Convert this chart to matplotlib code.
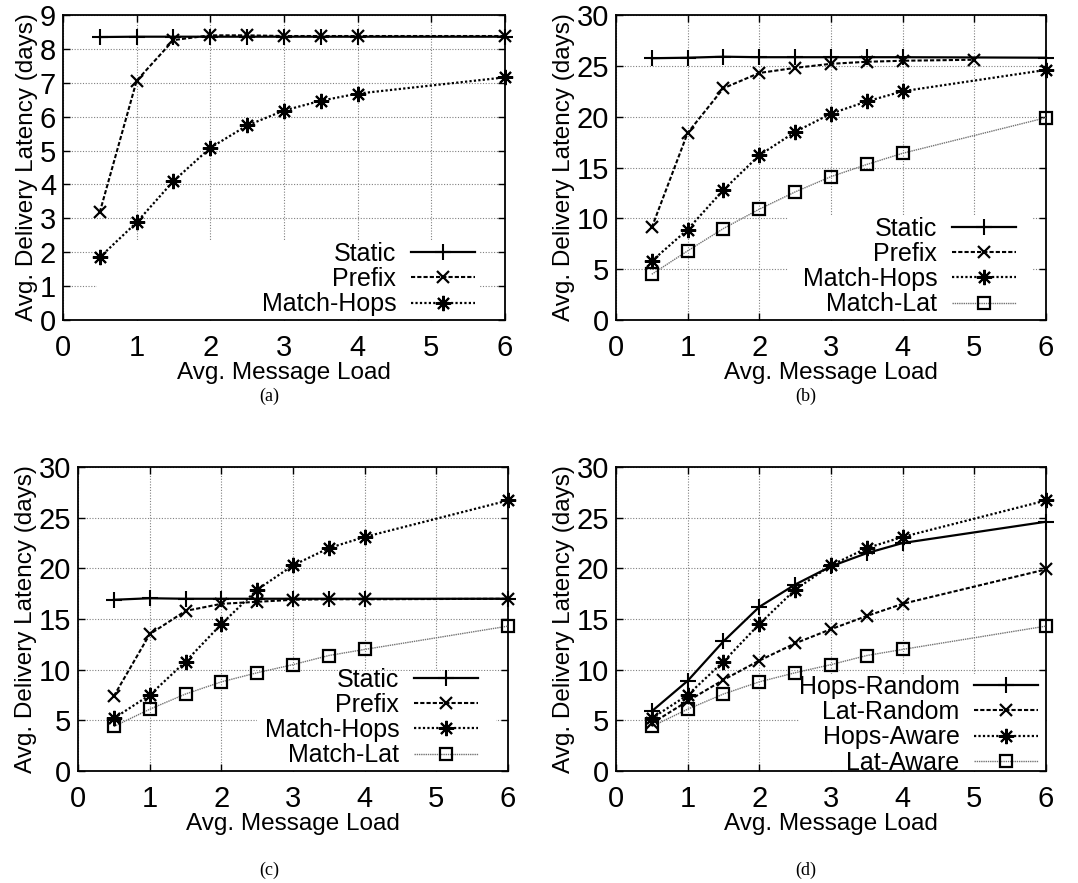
import matplotlib
matplotlib.use("Agg")
import matplotlib.pyplot as plt
from matplotlib.patches import Rectangle

plt.rcParams['font.family'] = ['Liberation Sans', 'DejaVu Sans']

# message load values (x axis)
load = [0.5, 1, 1.5, 2, 2.5, 3, 3.5, 4, 6]
load_b_prefix = [0.5, 1, 1.5, 2, 2.5, 3, 3.5, 4, 5]

# (a)
a_static = [8.35, 8.36, 8.36, 8.36, 8.36, 8.36, 8.36, 8.36, 8.36]
a_prefix = [3.18, 7.06, 8.26, 8.40, 8.40, 8.38, 8.38, 8.38, 8.38]
a_hops = [1.85, 2.88, 4.10, 5.08, 5.74, 6.18, 6.47, 6.68, 7.16]

# (b)
b_static = [25.75, 25.8, 25.9, 25.85, 25.85, 25.85, 25.85, 25.85, 25.8]
b_prefix = [9.1, 18.4, 22.8, 24.3, 24.8, 25.2, 25.4, 25.5, 25.6]
b_hops = [5.8, 8.9, 12.8, 16.2, 18.5, 20.3, 21.5, 22.5, 24.6]
b_lat = [4.5, 6.8, 9.0, 10.9, 12.6, 14.1, 15.3, 16.4, 19.9]

# (c)
c_static = [16.9, 17.05, 17.0, 17.0, 17.0, 17.0, 17.0, 17.0, 17.0]
c_prefix = [7.4, 13.5, 15.8, 16.5, 16.7, 16.9, 16.95, 16.95, 17.0]
c_hops = [5.2, 7.5, 10.8, 14.5, 17.9, 20.3, 22.0, 23.1, 26.7]
c_lat = [4.4, 6.1, 7.6, 8.8, 9.7, 10.5, 11.4, 12.0, 14.3]

# (d)
d_hops_random = [5.9, 8.9, 12.8, 16.2, 18.4, 20.2, 21.5, 22.5, 24.6]
d_lat_random = [4.7, 6.9, 9.0, 10.9, 12.6, 14.0, 15.3, 16.5, 19.9]
d_hops_aware = [5.2, 7.5, 10.8, 14.5, 17.9, 20.3, 22.0, 23.1, 26.7]
d_lat_aware = [4.4, 6.1, 7.6, 8.8, 9.7, 10.5, 11.4, 12.0, 14.3]

# line styles: solid/+, dashed/x, dotted/star, gray dotted/square
star = (8, 2, 0)
sty = [
    dict(color='black', ls='-', lw=1.6, marker='+', ms=11, mew=1.5),
    dict(color='black', ls=(0, (2, 1)), lw=1.5, marker='x', ms=9, mew=1.6),
    dict(color='black', ls=(0, (1, 1)), lw=1.6, marker=star, ms=11, mew=1.5),
    dict(color='0.45', ls=(0, (1, 0.6)), lw=1.0, marker='s', ms=9, mew=1.6,
         mec='black', mfc='none'),
]

fig = plt.figure(figsize=(10.78, 8.83), dpi=100)

panels = [
    # rect, ylim, ytick step, series, legend anchor, white box (x0, x1, ytop)
    ([0.0584, 0.6376, 0.4100, 0.3454], 9, 1,
     [(load, a_static, 'Static'), (load, a_prefix, 'Prefix'), (load, a_hops, 'Match-Hops')],
     (0.932, 0.012), (0.46, 5.66, 2.36)),
    ([0.5714, 0.6376, 0.3989, 0.3454], 30, 5,
     [(load, b_static, 'Static'), (load_b_prefix, b_prefix, 'Prefix'),
      (load, b_hops, 'Match-Hops'), (load, b_lat, 'Match-Lat')],
     (0.93, 0.012), (2.4, 5.8, 10.25)),
    ([0.0724, 0.1268, 0.3989, 0.3443], 30, 5,
     [(load, c_static, 'Static'), (load, c_prefix, 'Prefix'),
      (load, c_hops, 'Match-Hops'), (load, c_lat, 'Match-Lat')],
     (0.93, 0.012), (2.5, 5.83, 9.9)),
    ([0.5714, 0.1268, 0.3989, 0.3443], 30, 5,
     [(load, d_hops_random, 'Hops-Random'), (load, d_lat_random, 'Lat-Random'),
      (load, d_hops_aware, 'Hops-Aware'), (load, d_lat_aware, 'Lat-Aware')],
     (0.982, -0.012), (2.55, 6.0, 9.6)),
]
captions = ['(a)', '(b)', '(c)', '(d)']
cap_pos = [(0.250, 0.541), (0.747, 0.541), (0.250, 0.005), (0.747, 0.005)]

for (rect, ymax, ystep, series, anchor, box), cap, cp in zip(panels, captions, cap_pos):
    ax = fig.add_axes(rect)
    ax.set_axisbelow(True)
    ax.grid(True, color='0.5', lw=0.8, ls=(0, (1, 1.5)))
    # gnuplot key box hides the grid
    x0, x1, ytop = box
    ax.add_patch(Rectangle((x0, 0), x1 - x0, ytop, facecolor='white',
                           edgecolor='none', zorder=1))
    for i, (xs, ys, name) in enumerate(series):
        ax.plot(xs, ys, label=name, clip_on=False, zorder=3 + (3 - i) * 0.1, **sty[i])
    ax.set_xlim(0, 6)
    ax.set_ylim(0, ymax)
    ax.set_xticks(range(0, 7))
    ax.set_yticks(range(0, ymax + 1, ystep))
    ax.tick_params(direction='in', top=True, right=True, length=5, width=1,
                   labelsize=21, pad=5)
    ax.tick_params(axis='x', pad=10)
    for s in ax.spines.values():
        s.set_linewidth(1.3)
    ax.set_xlabel('Avg. Message Load', fontsize=17.5, labelpad=0)
    ax.set_ylabel('Avg. Delivery Latency (days)', fontsize=17.5, labelpad=1)
    ax.legend(loc='lower right', bbox_to_anchor=anchor, frameon=False,
              markerfirst=False, fontsize=18, handlelength=2.55, handletextpad=0.6,
              labelspacing=0.05, borderpad=0, borderaxespad=0)
    fig.text(cp[0], cp[1], cap, ha='center', va='bottom', fontsize=13,
             family='Liberation Serif')

fig.savefig('out.png', dpi=100)
